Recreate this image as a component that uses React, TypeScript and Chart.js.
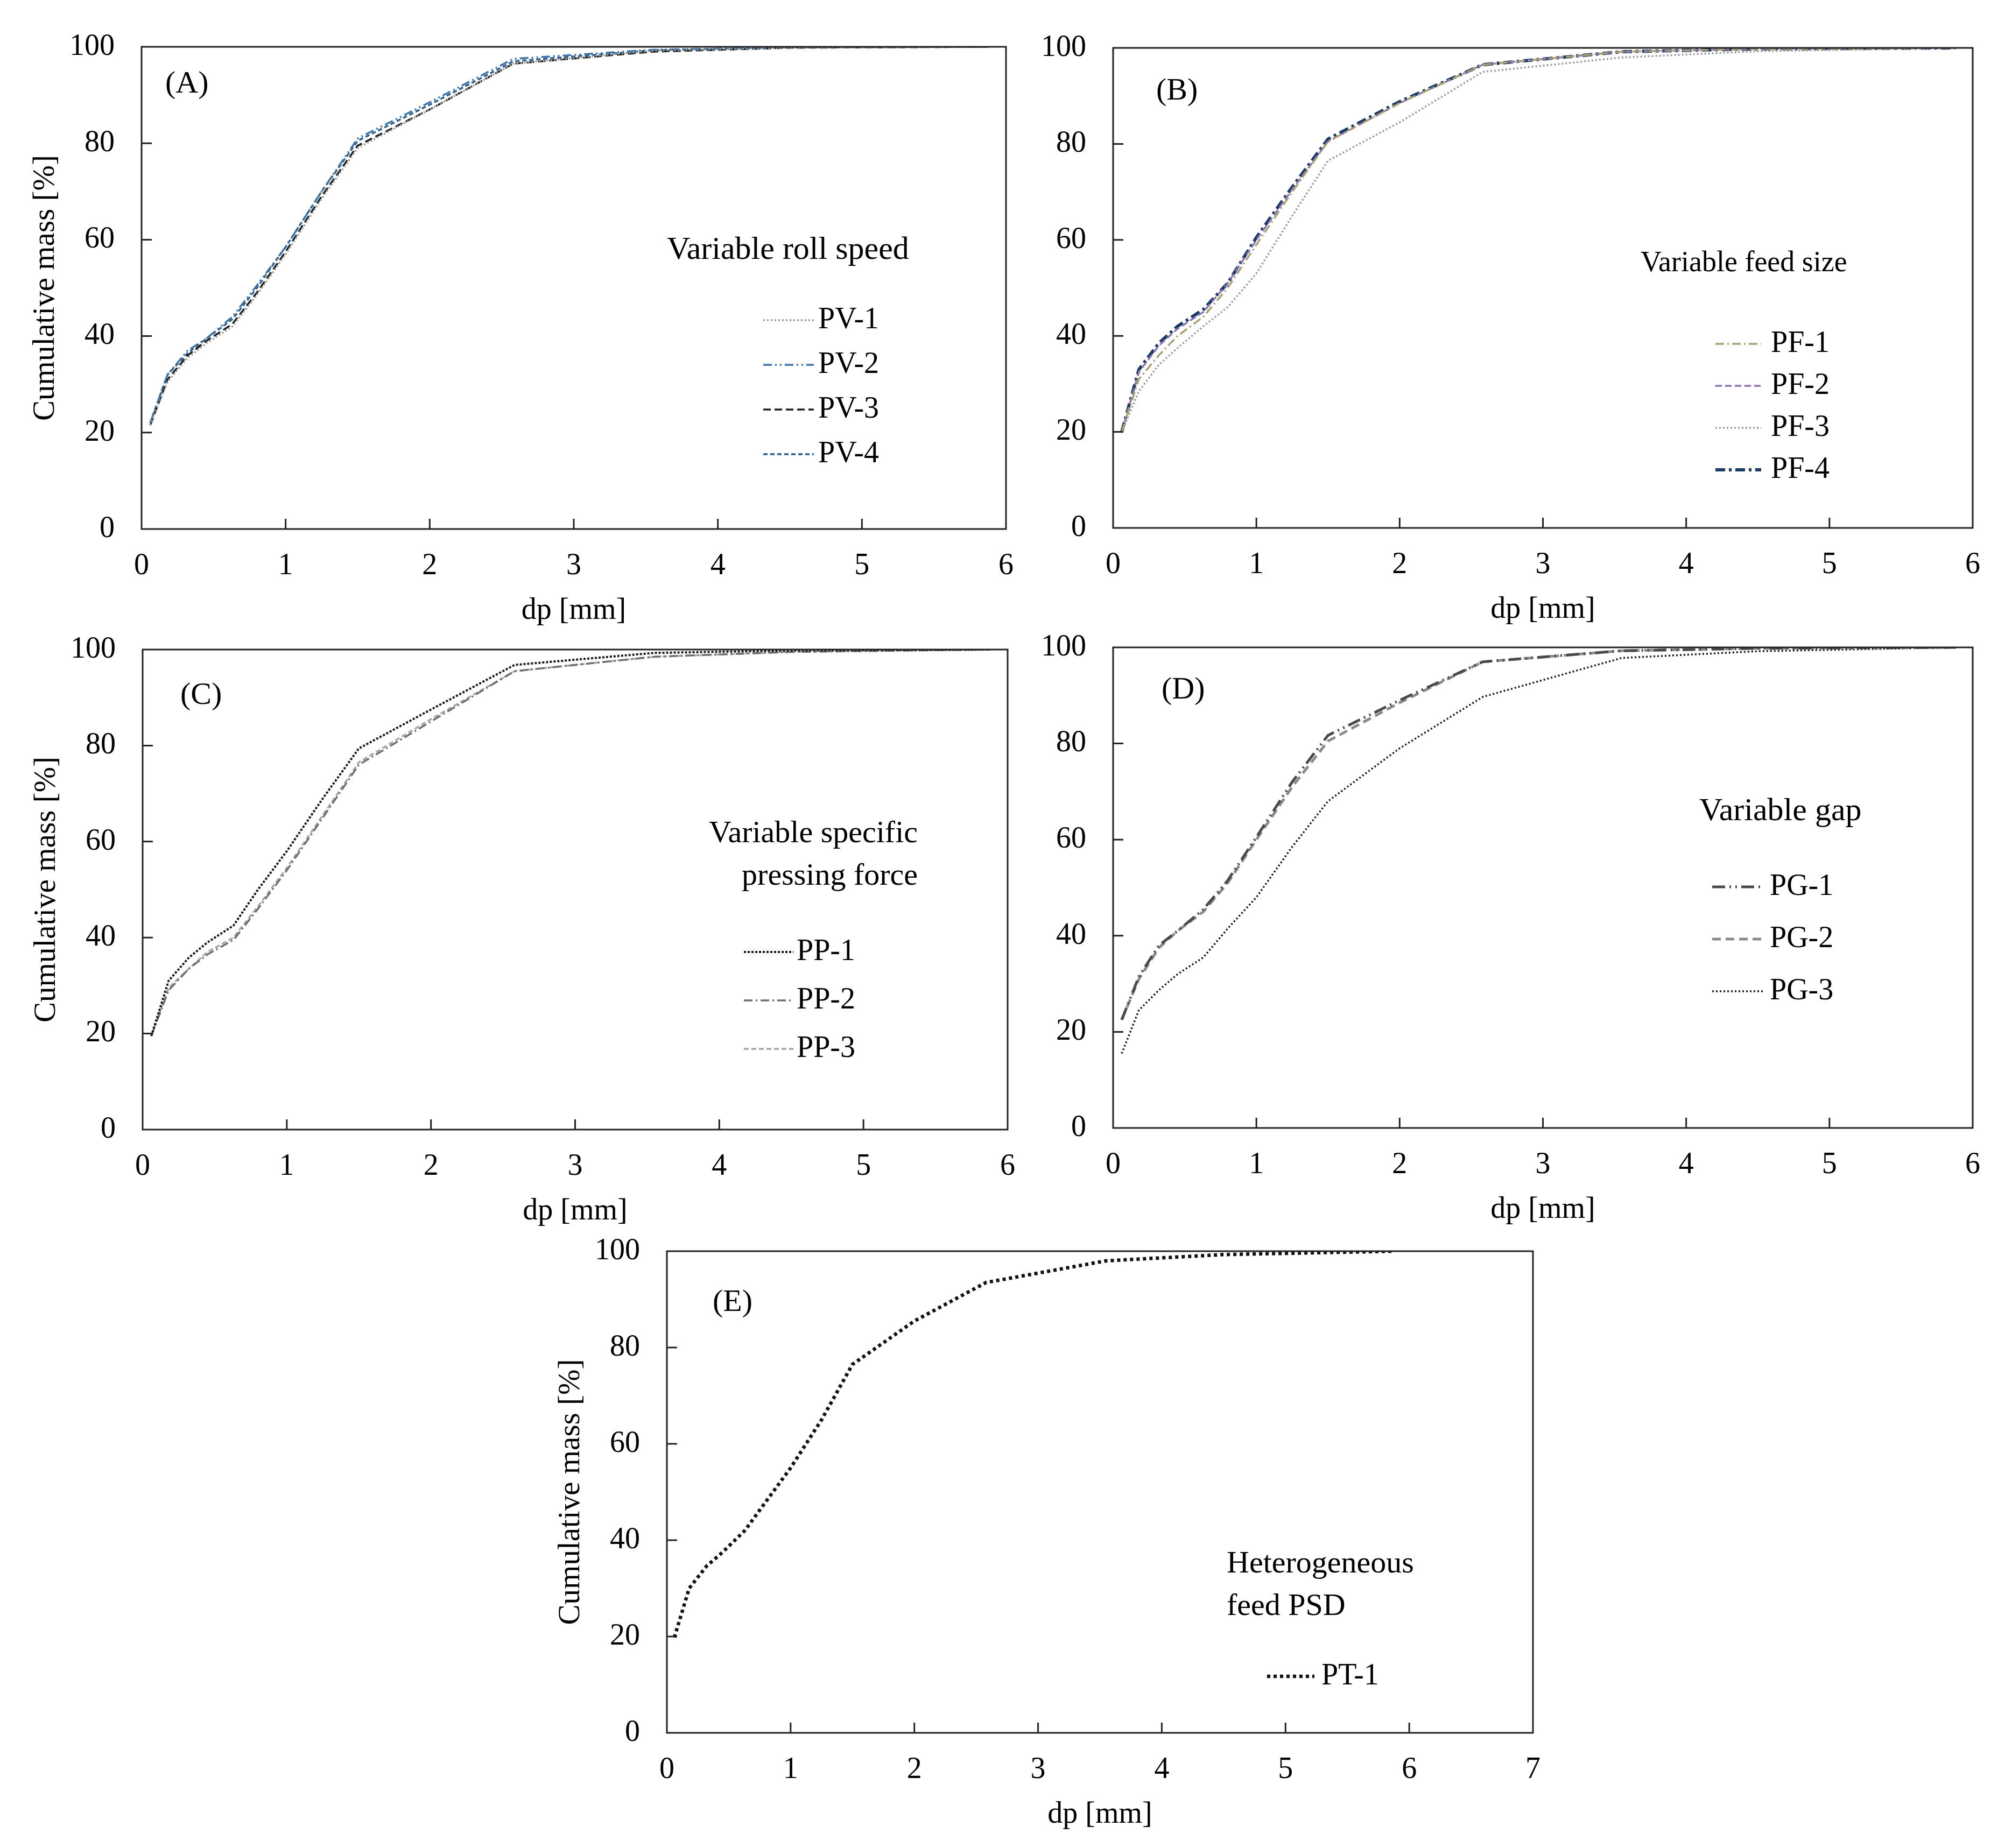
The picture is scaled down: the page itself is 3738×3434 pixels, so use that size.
import React, { useEffect, useRef } from 'react';
import { Chart, registerables } from 'chart.js';

Chart.register(...registerables);

const FONT = '"Liberation Serif", "Times New Roman", serif';

// particle size classes [mm] (shared by every panel)
const dp = [0.06, 0.18, 0.32, 0.45, 0.63, 0.8, 1.0, 1.25, 1.5, 2.0, 2.58, 3.55, 4.5, 5.88];

// (A) variable roll speed - cumulative mass [%]
const pv1 = [21.5, 30.5, 35.5, 38.5, 42, 48.5, 57, 68.5, 79, 87, 96.5, 99.2, 99.8, 100];
const pv2 = [22, 32, 37, 39.5, 44, 50.5, 58.5, 70, 81, 88.5, 97.5, 99.4, 99.9, 100];
const pv3 = [21.5, 31, 36, 39, 42.5, 49, 57.5, 69, 79.5, 87, 96.5, 99, 99.8, 100];
const pv4 = [22, 32, 36.5, 39.5, 43.5, 50, 58.5, 70, 80.5, 88, 97, 99.3, 99.9, 100];

// (B) variable feed size
const pf1 = [20, 31, 36, 40, 44, 50, 59, 70, 80.5, 88.5, 96.5, 99.2, 99.8, 100];
const pf2 = [20, 32.5, 38, 41.5, 45, 51, 60, 70.5, 80.5, 88.5, 96.5, 99.2, 99.8, 100];
const pf3 = [20, 28.5, 34, 37.5, 42, 46, 53, 65, 76.5, 84.5, 95, 98, 99.3, 100];
const pf4 = [20, 33, 38.5, 42, 45.5, 51, 60.5, 71, 81, 88.8, 96.5, 99.2, 99.8, 100];

// (C) variable specific pressing force
const pp1 = [19.5, 31, 35.8, 39, 42.5, 50, 58, 69, 79.4, 87.5, 96.8, 99.3, 99.8, 100];
const pp2 = [19.5, 29, 33.5, 36.5, 39.5, 46, 54, 65, 76, 85, 95.5, 98.5, 99.5, 100];
const pp3 = [19.5, 29.5, 33.5, 37, 40, 46.5, 54.5, 65.5, 76.5, 85.5, 95.5, 98.5, 99.5, 100];

// (D) variable gap
const pg1 = [22.5, 31.5, 38, 41, 45.5, 51.5, 60.5, 72, 81.7, 89, 97, 99.3, 99.8, 100];
const pg2 = [22.5, 31, 37.5, 41, 45, 51, 60, 71, 80.5, 88.5, 97, 99.3, 99.8, 100];
const pg3 = [15.5, 24.5, 28.7, 32, 35.5, 41.5, 48, 58.5, 68, 79, 89.7, 97.8, 99.2, 100];

// (E) heterogeneous feed PSD
const pt1 = [19.8, 30, 34.6, 37.5, 42, 48, 55, 65, 76.5, 85.5, 93.5, 98, 99.3, 100];

interface SeriesDef {
  label: string;
  values: number[];
  color: string;
  dash: number[];
  width: number;
}

interface PanelDef {
  key: string;
  tag: string;
  tagPos: [number, number];
  note: string[];
  noteAlign: CanvasTextAlign;
  notePos: [number, number];
  noteGap: number;
  noteSize: number;
  legend: { x0: number; x1: number; tx: number; y: number; step: number };
  xMax: number;
  yTitle: boolean;
  plot: { left: number; top: number; width: number; height: number };
  series: SeriesDef[];
}

const panels: PanelDef[] = [
  {
    key: 'A', tag: '(A)', tagPos: [44, 70],
    note: ['Variable roll speed'], noteAlign: 'left', notePos: [976, 378], noteGap: 0, noteSize: 60,
    legend: { x0: 1155, x1: 1249, tx: 1257, y: 508, step: 83 },
    xMax: 6, yTitle: true,
    plot: { left: 263, top: 87, width: 1606, height: 896 },
    series: [
      { label: 'PV-1', values: pv1, color: '#9a9a9a', dash: [3, 4], width: 3.5 },
      { label: 'PV-2', values: pv2, color: '#3d75a8', dash: [16, 6, 3, 6, 3, 6], width: 3.5 },
      { label: 'PV-3', values: pv3, color: '#1a1a1a', dash: [14, 7], width: 3.5 },
      { label: 'PV-4', values: pv4, color: '#2d5e8e', dash: [8, 5], width: 3.5 },
    ],
  },
  {
    key: 'B', tag: '(B)', tagPos: [80, 81],
    note: ['Variable feed size'], noteAlign: 'left', notePos: [980, 401], noteGap: 0, noteSize: 54,
    legend: { x0: 1119, x1: 1204, tx: 1222, y: 550, step: 78 },
    xMax: 6, yTitle: false,
    plot: { left: 2068, top: 89, width: 1597, height: 892 },
    series: [
      { label: 'PF-1', values: pf1, color: '#a8a070', dash: [16, 6, 3, 6], width: 3.5 },
      { label: 'PF-2', values: pf2, color: '#8b74b4', dash: [12, 6], width: 3.5 },
      { label: 'PF-3', values: pf3, color: '#9a9a9a', dash: [3, 4], width: 3.5 },
      { label: 'PF-4', values: pf4, color: '#1c3a66', dash: [18, 7, 5, 7], width: 6 },
    ],
  },
  {
    key: 'C', tag: '(C)', tagPos: [70, 86],
    note: ['Variable specific', 'pressing force'], noteAlign: 'right', notePos: [1440, 343], noteGap: 79, noteSize: 58,
    legend: { x0: 1117, x1: 1209, tx: 1215, y: 562, step: 90 },
    xMax: 6, yTitle: true,
    plot: { left: 265, top: 1207, width: 1607, height: 892 },
    series: [
      { label: 'PP-1', values: pp1, color: '#1a1a1a', dash: [4, 3], width: 4 },
      { label: 'PP-2', values: pp2, color: '#6e6e6e', dash: [16, 6, 3, 6], width: 3.5 },
      { label: 'PP-3', values: pp3, color: '#a5a5a5', dash: [9, 5], width: 3.5 },
    ],
  },
  {
    key: 'D', tag: '(D)', tagPos: [90, 80],
    note: ['Variable gap'], noteAlign: 'left', notePos: [1089, 305], noteGap: 0, noteSize: 60,
    legend: { x0: 1113, x1: 1210, tx: 1220, y: 445, step: 97 },
    xMax: 6, yTitle: false,
    plot: { left: 2068, top: 1203, width: 1597, height: 893 },
    series: [
      { label: 'PG-1', values: pg1, color: '#4a4a4a', dash: [24, 8, 3, 8, 3, 8], width: 5 },
      { label: 'PG-2', values: pg2, color: '#8a8a8a', dash: [16, 9], width: 5 },
      { label: 'PG-3', values: pg3, color: '#1a1a1a', dash: [3, 4], width: 3.5 },
    ],
  },
  {
    key: 'E', tag: '(E)', tagPos: [85, 96],
    note: ['Heterogeneous', 'feed PSD'], noteAlign: 'left', notePos: [1040, 582], noteGap: 79, noteSize: 58,
    legend: { x0: 1115, x1: 1203, tx: 1216, y: 790, step: 0 },
    xMax: 7, yTitle: true,
    plot: { left: 1239, top: 2325, width: 1609, height: 895 },
    series: [
      { label: 'PT-1', values: pt1, color: '#111111', dash: [6, 6], width: 6.5 },
    ],
  },
];

// top padding must cover half a tick label plus the y tick padding
const TOP_PAD = 90;
const RIGHT_PAD = 80;
const X_AXIS_H = 200;

// frame, inward tick marks, panel tag, note and legend
const decorPlugin = {
  id: 'decor',
  afterDraw(chart: any, _args: any, opts: any) {
    const p: PanelDef = opts.panel;
    const { ctx, chartArea } = chart;
    const { left, top, right, bottom } = chartArea;
    ctx.save();
    ctx.setLineDash([]);
    ctx.strokeStyle = '#222';
    ctx.lineWidth = 3;
    ctx.strokeRect(left, top, right - left, bottom - top);

    const xs = chart.scales.x;
    const ys = chart.scales.y;
    ctx.beginPath();
    xs.ticks.forEach((t: any) => {
      if (t.value <= xs.min || t.value >= xs.max) return;
      const px = xs.getPixelForValue(t.value);
      ctx.moveTo(px, bottom);
      ctx.lineTo(px, bottom - 19);
    });
    ys.ticks.forEach((t: any) => {
      if (t.value <= ys.min || t.value >= ys.max) return;
      const py = ys.getPixelForValue(t.value);
      ctx.moveTo(left, py);
      ctx.lineTo(left + 19, py);
    });
    ctx.stroke();

    ctx.fillStyle = '#000';
    ctx.textBaseline = 'middle';
    ctx.textAlign = 'left';
    ctx.font = `58px ${FONT}`;
    ctx.fillText(p.tag, left + p.tagPos[0], top + p.tagPos[1]);

    ctx.textAlign = p.noteAlign;
    ctx.font = `${p.noteSize}px ${FONT}`;
    p.note.forEach((line, i) => {
      ctx.fillText(line, left + p.notePos[0], top + p.notePos[1] + i * p.noteGap);
    });

    const lg = p.legend;
    chart.data.datasets.forEach((ds: any, i: number) => {
      const y = top + lg.y + i * lg.step;
      ctx.strokeStyle = ds.borderColor;
      ctx.lineWidth = ds.borderWidth;
      ctx.setLineDash(ds.borderDash);
      ctx.beginPath();
      ctx.moveTo(left + lg.x0, y);
      ctx.lineTo(left + lg.x1, y);
      ctx.stroke();
      ctx.setLineDash([]);
      ctx.textAlign = 'left';
      ctx.font = `56px ${FONT}`;
      ctx.fillText(ds.label, left + lg.tx, y);
    });
    ctx.restore();
  },
};

const PanelChart: React.FC<{ panel: PanelDef }> = ({ panel }) => {
  const chartRef = useRef<HTMLCanvasElement>(null);
  const yAxisW = panel.yTitle ? 250 : 200;
  const canvasLeft = panel.plot.left - yAxisW;
  const canvasTop = panel.plot.top - TOP_PAD;
  const w = yAxisW + panel.plot.width + RIGHT_PAD;
  const h = TOP_PAD + panel.plot.height + X_AXIS_H;

  useEffect(() => {
    if (!chartRef.current) return;
    const tickFont = { family: FONT, size: 56 };
    const chart = new Chart(chartRef.current, {
      type: 'line',
      data: {
        datasets: panel.series.map((s) => ({
          label: s.label,
          data: dp.map((x, i) => ({ x, y: s.values[i] })),
          borderColor: s.color,
          backgroundColor: s.color,
          borderDash: s.dash,
          borderWidth: s.width,
          pointRadius: 0,
          tension: 0,
          fill: false,
        })),
      },
      options: {
        responsive: false,
        animation: false,
        layout: { padding: { top: TOP_PAD, right: RIGHT_PAD, left: 0, bottom: 0 } },
        plugins: {
          legend: { display: false },
          tooltip: { enabled: false },
          decor: { panel },
        } as any,
        scales: {
          x: {
            type: 'linear',
            min: 0,
            max: panel.xMax,
            ticks: { stepSize: 1, padding: 36, color: '#000', font: tickFont, maxRotation: 0 },
            grid: { display: false, drawTicks: false },
            border: { display: false },
            title: {
              display: true,
              text: 'dp [mm]',
              color: '#000',
              font: tickFont,
              padding: { top: 0, bottom: 14 },
            },
            afterFit: (s: any) => { s.height = X_AXIS_H; },
          },
          y: {
            min: 0,
            max: 100,
            ticks: { stepSize: 20, padding: 50, color: '#000', font: tickFont },
            grid: { display: false, drawTicks: false },
            border: { display: false },
            title: {
              display: panel.yTitle,
              text: 'Cumulative mass [%]',
              color: '#000',
              font: { family: FONT, size: 57 },
              padding: { top: 38, bottom: 0 },
            },
            afterFit: (s: any) => { s.width = yAxisW; },
          },
        },
      },
      plugins: [decorPlugin],
    });
    return () => chart.destroy();
  }, [panel]);

  return (
    <canvas
      ref={chartRef}
      width={w}
      height={h}
      style={{ position: 'absolute', left: canvasLeft - 8, top: canvasTop - 8, width: w, height: h }}
    />
  );
};

export default function App() {
  return (
    <div style={{ position: 'relative', width: 3722, height: 3418, background: '#fff' }}>
      {panels.map((p) => (
        <PanelChart key={p.key} panel={p} />
      ))}
    </div>
  );
}
